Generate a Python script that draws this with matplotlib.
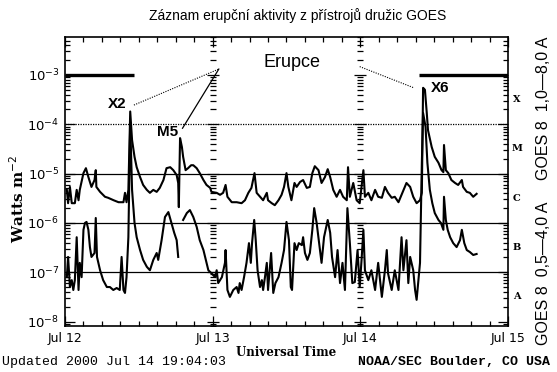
"""
goes_xray.py - GOES 8 X-ray flux, 12-14 Jul 2000 (Bastille day flare).
Two channels (1-8 A long, 0.5-4 A short) on a log axis, flare labels.
Output: out.png
"""
import numpy as np
import matplotlib
matplotlib.use("Agg")
import matplotlib.pyplot as plt
from matplotlib.ticker import FixedLocator, MultipleLocator, NullFormatter

# ── data: hours since 2000-07-12 00 UT, log10 flux in W m^-2 ──
NAN = float("nan")
LONG_HOURS = [0.3, 0.5, 0.8, 1.1, 1.6, 1.9, 2.2, 2.4, 3.0, 3.4, 3.8, 4.3, 4.8, 5.0, 5.1,
              5.7, 6.5, 7.0, 7.9, 8.7, 9.5, 9.75, 10.0, 10.3, 10.6, 10.9, 11.3, 11.65,
              12.2, 12.7, 13.3, 13.8, 14.35, 14.9, 15.4, 16.0, 16.5, 17.1, 17.6, 18.15,
              18.4, 18.5, 18.7, 19.0, 19.2, 19.6, 20.0, 20.5, 20.85, 21.4, 21.9, 22.5,
              23.0, 23.6, 23.8, 24.65, 25.2, 25.7, 26.1, 26.4, 27.1, 27.9, 28.7, 29.25,
              29.8, 30.3, 30.8, 31.15, 31.7, 32.2, 32.8, 33.0, 33.6, 34.1, 34.7, 35.2,
              35.6, 36.0, 36.3, 36.8, 37.3, 37.65, 38.2, 38.7, 39.3, 39.8, 40.2, 40.6,
              41.2, 41.7, 42.25, 42.7, 43.1, 43.6, 44.15, 44.7, 45.2, 45.8, 46.0, 46.3,
              46.85, 47.4, 47.9, 48.5, 48.75, 49.3, 49.8, 50.4, 50.9, 51.5, 52.0, 52.5,
              53.1, 53.6, 54.2, 54.7, 55.5, 56.1, 56.6, 57.15, 57.7, 58.0, 58.2, 58.5,
              58.8, 59.0, 59.6, 60.1, 60.7, 61.2, 61.5, 61.6, 61.9, 62.3, 62.8, 63.4,
              63.9, 64.5, 64.7, 65.3, 65.8, 66.35, 66.9]
LONG_LOGF = [-5.33, -5.60, -5.27, -5.60, -5.60, -5.33, -5.54, -5.33, -4.99, -4.89, -5.07,
             -5.27, -5.13, -4.93, -5.27, -5.37, -5.47, -5.49, -5.54, -5.58, -5.58, -5.39,
             -5.58, -5.33, -3.74, -4.32, -4.66, -4.87, -5.07, -5.23, -5.33, -5.39, -5.33,
             -5.37, -5.29, -5.13, -4.89, -4.87, -4.93, -5.03, -5.19, -5.68, -4.28, -4.46,
             -4.66, -4.93, -4.89, -4.83, -4.83, -4.89, -4.99, -5.13, -5.23, -5.29, -5.37,
             -5.39, -5.43, -5.39, -5.23, -5.47, -5.58, -5.58, -5.60, -5.54, -5.39, -5.29,
             -4.99, -5.39, -5.47, -5.54, -5.39, -5.54, -5.60, -5.64, -5.54, -5.43, -5.27,
             -4.99, -5.27, -5.54, -5.19, -5.27, -5.17, -5.13, -5.29, -5.27, -4.99, -4.85,
             -4.93, -5.19, -5.07, -4.91, -5.07, -5.33, -5.47, -5.33, -5.47, -5.54, -4.87,
             -5.47, -5.19, -5.54, -5.60, -4.93, -5.47, -5.39, -5.54, -5.33, -5.47, -5.49,
             -5.27, -5.39, -5.49, -5.47, -5.58, -5.43, -5.19, -5.27, -5.47, -5.60, -5.54,
             -5.39, -3.26, -3.30, -3.77, -4.12, -4.46, -4.66, -4.78, -4.93, -4.97, -4.42,
             -4.93, -4.99, -5.13, -5.19, -5.23, -5.13, -5.27, -5.37, -5.39, -5.47, -5.41]

SHORT_HOURS = [0.3, 0.5, 0.8, 1.1, 1.35, 1.6, 1.9, 2.2, 2.4, 2.7, 3.0, 3.25, 3.5, 3.8, 4.05,
               4.3, 4.8, 5.0, 5.2, 5.7, 6.2, 6.8, 7.3, 7.85, 8.4, 8.9, 9.2, 9.5, 9.75, 10.0,
               10.3, 10.6, 10.9, 11.3, 11.65, 12.2, 12.7, 13.3, 13.8, 14.35, 14.9, 15.15,
               15.7, 16.25, 16.8, 17.3, 17.75, 18.15, 18.4, 18.8, 19.2, 19.8, 20.3, 20.85,
               21.4, 21.9, 22.5, 23.0, 23.3, 23.8, 24.4, 24.65, 24.9, 25.5, 26.0, 26.1,
               26.4, 26.8, 27.35, 27.9, 28.2, 28.4, 28.7, 29.1, 29.5, 29.9, 30.2, 30.4,
               30.75, 31.0, 31.3, 31.7, 32.0, 32.2, 32.5, 32.8, 33.0, 33.5, 33.85, 34.2,
               34.7, 35.2, 35.6, 36.0, 36.4, 36.7, 36.9, 37.3, 37.65, 38.0, 38.5, 38.7,
               39.0, 39.4, 39.8, 40.2, 40.5, 40.9, 41.3, 41.7, 42.1, 42.7, 43.1, 43.4,
               43.9, 44.3, 44.7, 45.1, 45.5, 45.9, 46.3, 46.7, 47.1, 47.55, 47.9, 48.2,
               48.5, 48.75, 49.3, 49.8, 50.4, 50.9, 51.5, 52.0, 52.3, 52.5, 53.1, 53.6,
               54.2, 54.7, 55.0, 55.5, 55.8, 56.1, 56.6, 56.9, 57.15, 57.4, 57.7, 58.0,
               58.2, 58.6, 58.9, 59.3, 59.7, 60.1, 60.7, 61.1, 61.5, 61.6, 61.9, 62.2,
               62.6, 63.1, 63.65, 64.2, 64.5, 64.9, 65.3, 65.8, 66.35, 66.9]
SHORT_LOGF = [-7.10, -6.69, -7.30, -7.16, -7.36, -7.16, -6.29, -7.36, -6.81, -7.10, -6.14,
              -6.00, -5.98, -6.14, -6.49, -6.69, -6.61, -5.90, -6.69, -6.96, -7.16, -7.30,
              -7.30, -7.36, -7.32, -7.36, -6.69, -7.36, -7.42, -7.10, -6.29, -3.97, -5.33,
              -6.00, -6.29, -6.55, -6.75, -6.89, -6.96, -6.75, -6.61, -6.75, -6.35, -5.88,
              -5.78, -6.00, -6.20, -6.35, -6.69, NAN, -5.94, -5.80, -5.74, -5.88, -6.08,
              -6.35, -6.55, -6.81, -6.96, -7.02, -7.10, -6.96, -7.22, -7.10, -6.81, -6.55,
              -7.36, -7.50, -7.36, -7.30, -7.42, -7.22, -7.36, -7.10, -6.81, -6.41, -6.81,
              -6.41, -5.94, -6.35, -6.96, -7.30, -7.16, -7.36, -7.10, -6.81, -7.36, -6.61,
              -7.42, -7.22, -7.10, -6.81, -6.55, -5.98, -6.35, -7.30, -7.36, -6.41, -6.55,
              -6.41, -6.45, -6.29, -6.61, -6.75, -6.61, -6.14, -5.70, -6.00, -6.41, -6.81,
              -6.29, -5.94, -6.20, -6.69, -7.10, -6.55, -7.22, -6.81, -7.36, -5.70, -6.41,
              -7.22, -7.20, -6.55, -7.30, -6.75, -6.14, -6.96, -7.16, -6.96, -7.36, -6.81,
              -7.50, -6.96, -6.55, -7.02, -7.36, -6.96, -7.36, -6.29, -6.96, -6.35, -7.22,
              -6.69, -6.96, -7.36, -7.56, -7.22, -6.81, -4.78, -3.77, -4.05, -4.78, -5.33,
              -5.60, -5.80, -5.94, -6.00, -6.14, -5.47, -5.94, -6.14, -6.29, -6.41, -6.49,
              -6.35, -6.14, -6.41, -6.55, -6.59, -6.65, -6.63]

DAY_TICKS = [0, 24, 48, 72]
DAY_LABELS = ["Jul 12", "Jul 13", "Jul 14", "Jul 15"]
DAY_BOUNDARIES = [24, 48]

CLASS_LETTERS = ["A", "B", "C", "M", "X"]
CLASS_LOGF = [-7.5, -6.5, -5.5, -4.5, -3.5]

FLARE_NAMES = ["X2", "M5", "X6"]
FLARE_HOURS = [8.45, 16.6, 60.9]
FLARE_LOGF = [-3.59, -4.16, -3.26]

YLIM_LOG = (-8.09, -2.23)
BAR_SPANS = [(0, 11.2), (57.6, 72)]      # thick marks at 1e-3
REF_LEVELS = [-4, -5, -6, -7]

fig = plt.figure(figsize=(5.57, 3.72), dpi=100)
ax = fig.add_axes([0.1167, 0.1237, 0.7953, 0.7768])

ax.plot(LONG_HOURS, 10 ** np.array(LONG_LOGF), color="black", lw=1.5)
ax.plot(SHORT_HOURS, 10 ** np.array(SHORT_LOGF), color="black", lw=1.5)

# reference levels: dotted at 1e-4, solid below
for lv in REF_LEVELS:
    ax.axhline(10 ** lv, color="black", lw=0.9, ls=(0, (1, 1)) if lv == -4 else "-")
for a, b in BAR_SPANS:
    ax.plot([a, b], [1e-3, 1e-3], color="black", lw=2.4, solid_capstyle="butt")

ax.set_yscale("log")
ax.set_ylim(10 ** YLIM_LOG[0], 10 ** YLIM_LOG[1])
ax.set_xlim(DAY_TICKS[0], DAY_TICKS[-1])

# ticks: inward on all four sides
ax.xaxis.set_major_locator(FixedLocator(DAY_TICKS))
ax.xaxis.set_minor_locator(MultipleLocator(3))
ax.set_xticklabels(DAY_LABELS, fontsize=9, family="DejaVu Sans")
decades = list(range(-8, -2))
ax.yaxis.set_major_locator(FixedLocator([10.0 ** d for d in decades]))
ax.set_yticklabels([r"$10^{%d}$" % d for d in decades], fontsize=9.5)
minor_vals = [m * 10.0 ** d for d in range(-9, -1) for m in range(2, 10)]
ax.yaxis.set_minor_locator(FixedLocator(minor_vals))
ax.yaxis.set_minor_formatter(NullFormatter())
ax.tick_params(which="both", direction="in", top=True, right=True, width=0.9)
ax.tick_params(which="major", length=7, pad=4)
ax.tick_params(which="minor", length=3.5)
for s in ax.spines.values():
    s.set_linewidth(1.2)

# y-axis tick columns repeated at day boundaries
for xb in DAY_BOUNDARIES:
    ax.plot([xb] * len(minor_vals), minor_vals, ls="none", marker="_",
            ms=4, mew=0.9, color="black")
    ax.plot([xb] * len(decades), [10.0 ** d for d in decades], ls="none",
            marker="_", ms=8, mew=0.9, color="black")

# GOES class letters on the right
for letter, lv in zip(CLASS_LETTERS, CLASS_LOGF):
    ax.text(1.02, 10 ** lv, letter, transform=ax.get_yaxis_transform(),
            fontsize=7, fontweight="bold", family="DejaVu Serif", va="center", ha="center")

fig.text(0.975, 0.71, "GOES 8  1,0\u20148,0 A", rotation=90, fontsize=11.5,
         family="Liberation Sans", ha="center", va="center")
fig.text(0.975, 0.265, "GOES 8  0,5\u20144,0 A", rotation=90, fontsize=11.5,
         family="Liberation Sans", ha="center", va="center")

# flare labels and pointers
for name, h, lv in zip(FLARE_NAMES, FLARE_HOURS, FLARE_LOGF):
    ax.text(h, 10 ** lv, name, fontsize=11, family="Liberation Sans",
            fontweight="bold", ha="center", va="center")
ax.text(36.9, 10 ** -2.74, "Erupce", fontsize=13, family="Liberation Sans",
        ha="center", va="center")
ax.plot([11.2, 25.0], [10 ** -3.61, 10 ** -2.88], color="black", lw=0.8, ls=(0, (1, 1.2)))
ax.plot([19.1, 25.0], [10 ** -4.08, 10 ** -2.88], color="black", lw=0.9)
ax.plot([47.9, 56.7], [10 ** -2.83, 10 ** -3.26], color="black", lw=0.8, ls=(0, (1, 1.2)))

fig.text(0.031, 0.465, r"Watts m$^{-2}$", rotation=90, fontsize=11, fontweight="bold",
         family="DejaVu Serif", ha="center", va="center")
ax.set_xlabel("Universal Time", fontsize=8.5, fontweight="bold", family="DejaVu Serif",
              labelpad=1)

fig.text(0.535, 0.958, "Záznam erupční aktivity z přístrojů družic GOES",
         fontsize=10, family="Liberation Sans", ha="center", va="center")
fig.text(0.004, 0.027, "Updated 2000 Jul 14 19:04:03", fontsize=9.5,
         family="Liberation Mono", ha="left", va="center")
fig.text(0.988, 0.027, "NOAA/SEC Boulder, CO USA", fontsize=9.5,
         family="Liberation Mono", fontweight="bold", ha="right", va="center")

fig.savefig("out.png", dpi=100)
